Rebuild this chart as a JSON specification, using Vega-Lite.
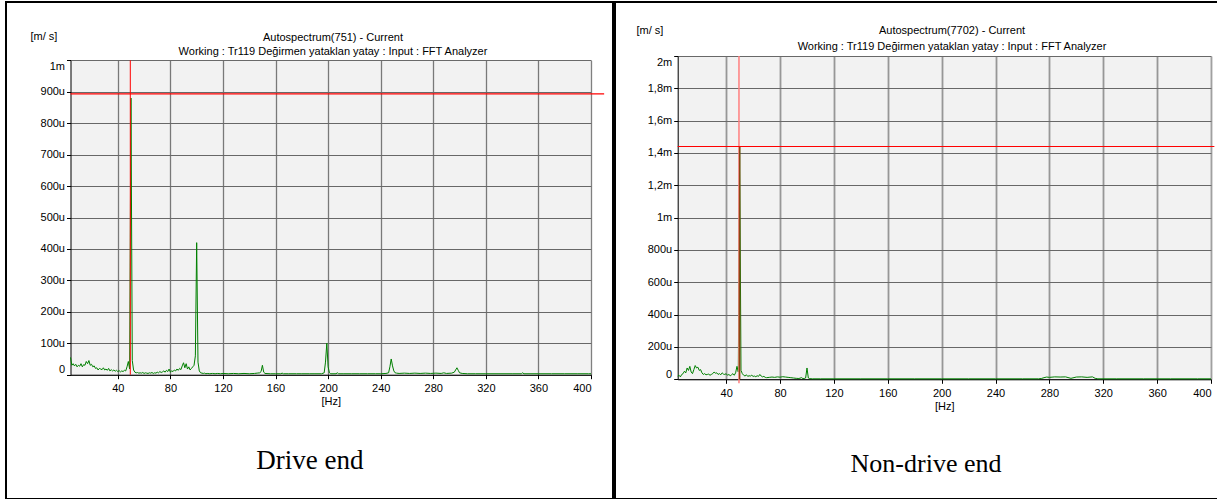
{
  "$schema": "https://vega.github.io/schema/vega-lite/v6.json",
  "padding": {"left": 5, "top": 1, "right": 0, "bottom": 0},
  "spacing": 0,
  "background": "white",
  "config": {"view": {"stroke": "#000000", "strokeWidth": 2}, "concat": {"spacing": 0}},
  "datasets": {
    "de": [
      {"hz":4,"v":55},{"hz":5,"v":30},{"hz":6,"v":35},{"hz":7,"v":28},{"hz":8,"v":33},{"hz":9,"v":25},{"hz":10,"v":30},{"hz":11,"v":27},{"hz":12,"v":35},{"hz":13,"v":25},{"hz":14,"v":32},{"hz":15,"v":30},{"hz":16,"v":42},{"hz":17,"v":35},{"hz":18,"v":45},{"hz":19,"v":30},{"hz":20,"v":33},{"hz":21,"v":25},{"hz":22,"v":28},{"hz":23,"v":20},{"hz":24,"v":22},{"hz":25,"v":15},{"hz":26,"v":20},{"hz":27,"v":18},{"hz":28,"v":16},{"hz":29,"v":22},{"hz":30,"v":15},{"hz":31,"v":18},{"hz":32,"v":14},{"hz":33,"v":20},{"hz":34,"v":12},{"hz":35,"v":16},{"hz":36,"v":12},{"hz":37,"v":15},{"hz":38,"v":11},{"hz":39,"v":14},{"hz":40,"v":10},{"hz":41,"v":13},{"hz":42,"v":9},{"hz":43,"v":12},{"hz":44,"v":10},{"hz":45,"v":14},{"hz":46,"v":12},{"hz":47,"v":25},{"hz":48,"v":42},{"hz":49,"v":18},{"hz":50,"v":880},{"hz":51,"v":45},{"hz":52,"v":15},{"hz":53,"v":8},{"hz":54,"v":6},{"hz":55,"v":7},{"hz":56,"v":5},{"hz":57,"v":6},{"hz":58,"v":5},{"hz":59,"v":7},{"hz":60,"v":4},{"hz":61,"v":6},{"hz":62,"v":5},{"hz":63,"v":4},{"hz":64,"v":6},{"hz":65,"v":5},{"hz":66,"v":7},{"hz":67,"v":4},{"hz":68,"v":6},{"hz":69,"v":5},{"hz":70,"v":8},{"hz":71,"v":6},{"hz":72,"v":10},{"hz":73,"v":7},{"hz":74,"v":9},{"hz":75,"v":12},{"hz":76,"v":8},{"hz":77,"v":14},{"hz":78,"v":10},{"hz":79,"v":18},{"hz":80,"v":8},{"hz":81,"v":12},{"hz":82,"v":10},{"hz":83,"v":15},{"hz":84,"v":12},{"hz":85,"v":18},{"hz":86,"v":14},{"hz":87,"v":20},{"hz":88,"v":16},{"hz":89,"v":28},{"hz":90,"v":38},{"hz":91,"v":22},{"hz":92,"v":35},{"hz":93,"v":18},{"hz":94,"v":25},{"hz":95,"v":15},{"hz":96,"v":20},{"hz":97,"v":25},{"hz":98,"v":30},{"hz":99,"v":60},{"hz":100,"v":420},{"hz":101,"v":40},{"hz":102,"v":12},{"hz":103,"v":6},{"hz":104,"v":5},{"hz":105,"v":4},{"hz":106,"v":5},{"hz":107,"v":3},{"hz":108,"v":4},{"hz":110,"v":3},{"hz":112,"v":4},{"hz":114,"v":3},{"hz":116,"v":4},{"hz":118,"v":3},{"hz":120,"v":4},{"hz":124,"v":3},{"hz":128,"v":4},{"hz":132,"v":3},{"hz":136,"v":4},{"hz":140,"v":3},{"hz":144,"v":4},{"hz":146,"v":5},{"hz":148,"v":6},{"hz":149,"v":10},{"hz":150,"v":30},{"hz":151,"v":8},{"hz":152,"v":4},{"hz":156,"v":3},{"hz":160,"v":3},{"hz":164,"v":3},{"hz":165,"v":5},{"hz":166,"v":3},{"hz":170,"v":3},{"hz":176,"v":3},{"hz":180,"v":3},{"hz":186,"v":3},{"hz":190,"v":3},{"hz":195,"v":3},{"hz":197,"v":6},{"hz":198,"v":40},{"hz":199,"v":100},{"hz":200,"v":25},{"hz":201,"v":6},{"hz":202,"v":3},{"hz":206,"v":3},{"hz":207,"v":6},{"hz":208,"v":3},{"hz":212,"v":3},{"hz":218,"v":3},{"hz":224,"v":3},{"hz":230,"v":3},{"hz":236,"v":3},{"hz":240,"v":3},{"hz":244,"v":4},{"hz":246,"v":6},{"hz":247,"v":25},{"hz":248,"v":50},{"hz":249,"v":28},{"hz":250,"v":12},{"hz":251,"v":6},{"hz":252,"v":5},{"hz":254,"v":4},{"hz":258,"v":5},{"hz":262,"v":4},{"hz":266,"v":5},{"hz":270,"v":4},{"hz":274,"v":5},{"hz":278,"v":4},{"hz":282,"v":5},{"hz":286,"v":4},{"hz":288,"v":6},{"hz":290,"v":4},{"hz":294,"v":5},{"hz":296,"v":8},{"hz":297,"v":15},{"hz":298,"v":22},{"hz":299,"v":14},{"hz":300,"v":6},{"hz":302,"v":4},{"hz":306,"v":3},{"hz":312,"v":3},{"hz":320,"v":3},{"hz":330,"v":3},{"hz":340,"v":3},{"hz":347,"v":3},{"hz":348,"v":6},{"hz":349,"v":3},{"hz":360,"v":3},{"hz":370,"v":3},{"hz":380,"v":3},{"hz":390,"v":3},{"hz":398,"v":3},{"hz":400,"v":3}
    ],
    "nde": [
      {"hz":4,"v":20},{"hz":5,"v":25},{"hz":6,"v":15},{"hz":7,"v":30},{"hz":8,"v":35},{"hz":9,"v":50},{"hz":10,"v":40},{"hz":11,"v":70},{"hz":12,"v":55},{"hz":13,"v":80},{"hz":14,"v":45},{"hz":15,"v":35},{"hz":16,"v":60},{"hz":17,"v":85},{"hz":18,"v":70},{"hz":19,"v":75},{"hz":20,"v":55},{"hz":21,"v":60},{"hz":22,"v":40},{"hz":23,"v":30},{"hz":24,"v":35},{"hz":25,"v":28},{"hz":26,"v":30},{"hz":27,"v":32},{"hz":28,"v":25},{"hz":29,"v":30},{"hz":30,"v":35},{"hz":31,"v":45},{"hz":32,"v":38},{"hz":33,"v":40},{"hz":34,"v":30},{"hz":35,"v":35},{"hz":36,"v":28},{"hz":37,"v":40},{"hz":38,"v":32},{"hz":39,"v":30},{"hz":40,"v":35},{"hz":41,"v":25},{"hz":42,"v":30},{"hz":43,"v":22},{"hz":44,"v":28},{"hz":45,"v":35},{"hz":46,"v":25},{"hz":47,"v":40},{"hz":48,"v":80},{"hz":49,"v":45},{"hz":50,"v":1440},{"hz":51,"v":55},{"hz":52,"v":35},{"hz":53,"v":25},{"hz":54,"v":20},{"hz":55,"v":28},{"hz":56,"v":18},{"hz":57,"v":22},{"hz":58,"v":20},{"hz":59,"v":25},{"hz":60,"v":18},{"hz":61,"v":20},{"hz":62,"v":16},{"hz":63,"v":22},{"hz":64,"v":18},{"hz":65,"v":30},{"hz":66,"v":20},{"hz":67,"v":15},{"hz":68,"v":18},{"hz":69,"v":12},{"hz":70,"v":10},{"hz":72,"v":12},{"hz":74,"v":14},{"hz":76,"v":12},{"hz":78,"v":15},{"hz":80,"v":13},{"hz":82,"v":16},{"hz":84,"v":14},{"hz":86,"v":12},{"hz":88,"v":10},{"hz":90,"v":8},{"hz":92,"v":6},{"hz":94,"v":5},{"hz":96,"v":10},{"hz":97,"v":4},{"hz":98,"v":5},{"hz":99,"v":8},{"hz":100,"v":70},{"hz":101,"v":8},{"hz":102,"v":4},{"hz":104,"v":3},{"hz":110,"v":3},{"hz":120,"v":3},{"hz":140,"v":3},{"hz":160,"v":3},{"hz":180,"v":3},{"hz":200,"v":3},{"hz":220,"v":3},{"hz":240,"v":3},{"hz":260,"v":3},{"hz":272,"v":3},{"hz":274,"v":5},{"hz":276,"v":10},{"hz":278,"v":14},{"hz":280,"v":12},{"hz":284,"v":15},{"hz":288,"v":14},{"hz":292,"v":15},{"hz":296,"v":6},{"hz":300,"v":14},{"hz":304,"v":15},{"hz":308,"v":12},{"hz":312,"v":15},{"hz":314,"v":6},{"hz":316,"v":3},{"hz":330,"v":3},{"hz":350,"v":3},{"hz":370,"v":3},{"hz":390,"v":3},{"hz":400,"v":3}
    ]
  },
  "hconcat": [
    {
      "width": 607,
      "height": 497,
      "resolve": {"axis": {"x": "independent", "y": "independent"}},
      "layer": [
        {
          "data": {"values": [{}]},
          "mark": {"type": "rect", "fill": "#000000", "fillOpacity": 0.051},
          "encoding": {
            "x": {"datum": 4, "type": "quantitative",
              "scale": {"domain": [4, 400], "range": [64.5, 585], "nice": false, "zero": false},
              "axis": {"orient": "bottom", "values": [40,80,120,160,200,240,280,320,360,400], "grid": false,
                "domainColor": "#000000", "domainWidth": 1, "tickColor": "#000000", "tickSize": 4,
                "labelFont": "Liberation Sans", "labelFontSize": 11, "labelColor": "#000000", "labelPadding": 4, "labelOverlap": false, "labelFlush": true,
                "title": "[Hz]", "titleFont": "Liberation Sans", "titleFontSize": 11, "titleFontWeight": "normal", "titleColor": "#000000", "titlePadding": 2,
                "offset": -124.3}},
            "x2": {"datum": 400},
            "y": {"datum": 0, "type": "quantitative",
              "scale": {"domain": [0, 1000], "range": [372.7, 58.3], "nice": false, "zero": false},
              "axis": {"values": [0,100,200,300,400,500,600,700,800,900,1000], "grid": true, "gridColor": "#6e6e6e", "gridWidth": 1,
                "domainColor": "#000000", "domainWidth": 1, "tickColor": "#000000", "tickSize": 4,
                "labelFont": "Liberation Sans", "labelFontSize": 11, "labelColor": "#000000", "labelPadding": 2, "labelOverlap": false, "labelFlush": true,
                "labelExpr": "datum.value == 0 ? '0' : datum.value >= 1000 ? '1m' : datum.value + 'u'",
                "title": null, "offset": -64.5}},
            "y2": {"datum": 1000}
          }
        },
        {
          "data": {"name": "de"},
          "mark": {"type": "line", "color": "#008000", "strokeWidth": 1},
          "encoding": {
            "x": {"field": "hz", "type": "quantitative", "scale": {"domain": [4, 400], "range": [64.5, 585], "nice": false, "zero": false},
              "axis": {"orient": "top", "values": [40,80,120,160,200,240,280,320,360,400], "grid": true, "gridColor": "#808080", "gridWidth": 1.3,
                "domain": false, "ticks": false, "labels": false, "title": null}},
            "y": {"field": "v", "type": "quantitative", "scale": {"domain": [0, 1000], "range": [372.7, 58.3], "nice": false, "zero": false}, "axis": null}
          }
        },
        {
          "data": {"values": [{}]},
          "mark": {"type": "rule", "color": "#ff0000", "strokeWidth": 1},
          "encoding": {
            "x": {"datum": 49.5, "type": "quantitative", "scale": {"domain": [4, 400], "range": [64.5, 585], "nice": false, "zero": false}, "axis": null},
            "y": {"datum": 0, "type": "quantitative", "scale": {"domain": [0, 1000], "range": [372.7, 58.3], "nice": false, "zero": false}, "axis": null},
            "y2": {"datum": 1000}
          }
        },
        {
          "data": {"values": [{}]},
          "mark": {"type": "rule", "color": "#ff0000", "strokeWidth": 1.3},
          "encoding": {
            "x": {"datum": 4, "type": "quantitative", "scale": {"domain": [4, 400], "range": [64.5, 585], "nice": false, "zero": false}, "axis": null},
            "x2": {"datum": 410},
            "y": {"datum": 893, "type": "quantitative", "scale": {"domain": [0, 1000], "range": [372.7, 58.3], "nice": false, "zero": false}, "axis": null}
          }
        },
        {
          "data": {"values": [{}]},
          "mark": {"type": "text", "text": "[m/ s]", "font": "Liberation Sans", "fontSize": 11, "color": "#000000", "align": "center", "baseline": "middle"},
          "encoding": {
            "x": {"datum": -16.2, "type": "quantitative", "scale": {"domain": [4, 400], "range": [64.5, 585], "nice": false, "zero": false}, "axis": null},
            "y": {"datum": 1074, "type": "quantitative", "scale": {"domain": [0, 1000], "range": [372.7, 58.3], "nice": false, "zero": false}, "axis": null}
          }
        },
        {
          "data": {"values": [{}]},
          "mark": {"type": "text", "text": "Autospectrum(751) - Current", "font": "Liberation Sans", "fontSize": 11, "color": "#000000", "align": "center", "baseline": "middle"},
          "encoding": {
            "x": {"datum": 203.7, "type": "quantitative", "scale": {"domain": [4, 400], "range": [64.5, 585], "nice": false, "zero": false}, "axis": null},
            "y": {"datum": 1071, "type": "quantitative", "scale": {"domain": [0, 1000], "range": [372.7, 58.3], "nice": false, "zero": false}, "axis": null}
          }
        },
        {
          "data": {"values": [{}]},
          "mark": {"type": "text", "text": "Working : Tr119 Değirmen yataklan yatay : Input : FFT Analyzer", "font": "Liberation Sans", "fontSize": 11, "color": "#000000", "align": "center", "baseline": "middle"},
          "encoding": {
            "x": {"datum": 203.7, "type": "quantitative", "scale": {"domain": [4, 400], "range": [64.5, 585], "nice": false, "zero": false}, "axis": null},
            "y": {"datum": 1026, "type": "quantitative", "scale": {"domain": [0, 1000], "range": [372.7, 58.3], "nice": false, "zero": false}, "axis": null}
          }
        },
        {
          "data": {"values": [{}]},
          "mark": {"type": "text", "text": "Drive end", "font": "Liberation Serif", "fontSize": 27, "color": "#000000", "align": "center", "baseline": "middle"},
          "encoding": {
            "x": {"datum": 186.2, "type": "quantitative", "scale": {"domain": [4, 400], "range": [64.5, 585], "nice": false, "zero": false}, "axis": null},
            "y": {"datum": -274.5, "type": "quantitative", "scale": {"domain": [0, 1000], "range": [372.7, 58.3], "nice": false, "zero": false}, "axis": null}
          }
        }
      ]
    },
    {
      "width": 604,
      "height": 497,
      "resolve": {"axis": {"x": "independent", "y": "independent"}},
      "layer": [
        {
          "data": {"values": [{}]},
          "mark": {"type": "rect", "fill": "#000000", "fillOpacity": 0.051},
          "encoding": {
            "x": {"datum": 4, "type": "quantitative",
              "scale": {"domain": [4, 400], "range": [62.7, 596], "nice": false, "zero": false},
              "axis": {"orient": "bottom", "values": [40,80,120,160,200,240,280,320,360,400], "grid": false,
                "domainColor": "#000000", "domainWidth": 1, "tickColor": "#000000", "tickSize": 4,
                "labelFont": "Liberation Sans", "labelFontSize": 11, "labelColor": "#000000", "labelPadding": 4, "labelOverlap": false, "labelFlush": true,
                "title": "[Hz]", "titleFont": "Liberation Sans", "titleFontSize": 11, "titleFontWeight": "normal", "titleColor": "#000000", "titlePadding": 2,
                "offset": -119.7}},
            "x2": {"datum": 400},
            "y": {"datum": 0, "type": "quantitative",
              "scale": {"domain": [0, 2000], "range": [377.3, 54], "nice": false, "zero": false},
              "axis": {"values": [0,200,400,600,800,1000,1200,1400,1600,1800,2000], "grid": true, "gridColor": "#6e6e6e", "gridWidth": 1,
                "domainColor": "#000000", "domainWidth": 1, "tickColor": "#000000", "tickSize": 4,
                "labelFont": "Liberation Sans", "labelFontSize": 11, "labelColor": "#000000", "labelPadding": 2, "labelOverlap": false, "labelFlush": true,
                "labelExpr": "datum.value == 0 ? '0' : datum.value >= 1000 ? replace(format(datum.value / 1000, '.1~f'), '.', ',') + 'm' : datum.value + 'u'",
                "title": null, "offset": -62.7}},
            "y2": {"datum": 2000}
          }
        },
        {
          "data": {"name": "nde"},
          "mark": {"type": "line", "color": "#008000", "strokeWidth": 1},
          "encoding": {
            "x": {"field": "hz", "type": "quantitative", "scale": {"domain": [4, 400], "range": [62.7, 596], "nice": false, "zero": false},
              "axis": {"orient": "top", "values": [40,80,120,160,200,240,280,320,360,400], "grid": true, "gridColor": "#a0a0a0", "gridWidth": 1.8,
                "domain": false, "ticks": false, "labels": false, "title": null}},
            "y": {"field": "v", "type": "quantitative", "scale": {"domain": [0, 2000], "range": [377.3, 54], "nice": false, "zero": false}, "axis": null}
          }
        },
        {
          "data": {"values": [{}]},
          "mark": {"type": "rule", "color": "#ff7f7f", "strokeWidth": 1.5},
          "encoding": {
            "x": {"datum": 49.5, "type": "quantitative", "scale": {"domain": [4, 400], "range": [62.7, 596], "nice": false, "zero": false}, "axis": null},
            "y": {"datum": -25, "type": "quantitative", "scale": {"domain": [0, 2000], "range": [377.3, 54], "nice": false, "zero": false}, "axis": null},
            "y2": {"datum": 2000}
          }
        },
        {
          "data": {"values": [{}]},
          "mark": {"type": "rule", "color": "#8b4513", "strokeWidth": 1.5},
          "encoding": {
            "x": {"datum": 50, "type": "quantitative", "scale": {"domain": [4, 400], "range": [62.7, 596], "nice": false, "zero": false}, "axis": null},
            "y": {"datum": 0, "type": "quantitative", "scale": {"domain": [0, 2000], "range": [377.3, 54], "nice": false, "zero": false}, "axis": null},
            "y2": {"datum": 1440}
          }
        },
        {
          "data": {"values": [{}]},
          "mark": {"type": "rule", "color": "#ff0000", "strokeWidth": 1.2},
          "encoding": {
            "x": {"datum": 4, "type": "quantitative", "scale": {"domain": [4, 400], "range": [62.7, 596], "nice": false, "zero": false}, "axis": null},
            "x2": {"datum": 402.5},
            "y": {"datum": 1440, "type": "quantitative", "scale": {"domain": [0, 2000], "range": [377.3, 54], "nice": false, "zero": false}, "axis": null}
          }
        },
        {
          "data": {"values": [{}]},
          "mark": {"type": "text", "text": "[m/ s]", "font": "Liberation Sans", "fontSize": 11, "color": "#000000", "align": "center", "baseline": "middle"},
          "encoding": {
            "x": {"datum": -16.6, "type": "quantitative", "scale": {"domain": [4, 400], "range": [62.7, 596], "nice": false, "zero": false}, "axis": null},
            "y": {"datum": 2155, "type": "quantitative", "scale": {"domain": [0, 2000], "range": [377.3, 54], "nice": false, "zero": false}, "axis": null}
          }
        },
        {
          "data": {"values": [{}]},
          "mark": {"type": "text", "text": "Autospectrum(7702) - Current", "font": "Liberation Sans", "fontSize": 11, "color": "#000000", "align": "center", "baseline": "middle"},
          "encoding": {
            "x": {"datum": 207.7, "type": "quantitative", "scale": {"domain": [4, 400], "range": [62.7, 596], "nice": false, "zero": false}, "axis": null},
            "y": {"datum": 2155, "type": "quantitative", "scale": {"domain": [0, 2000], "range": [377.3, 54], "nice": false, "zero": false}, "axis": null}
          }
        },
        {
          "data": {"values": [{}]},
          "mark": {"type": "text", "text": "Working : Tr119 Değirmen yataklan yatay : Input : FFT Analyzer", "font": "Liberation Sans", "fontSize": 11, "color": "#000000", "align": "center", "baseline": "middle"},
          "encoding": {
            "x": {"datum": 207.7, "type": "quantitative", "scale": {"domain": [4, 400], "range": [62.7, 596], "nice": false, "zero": false}, "axis": null},
            "y": {"datum": 2056, "type": "quantitative", "scale": {"domain": [0, 2000], "range": [377.3, 54], "nice": false, "zero": false}, "axis": null}
          }
        },
        {
          "data": {"values": [{}]},
          "mark": {"type": "text", "text": "Non-drive end", "font": "Liberation Serif", "fontSize": 26, "color": "#000000", "align": "center", "baseline": "middle"},
          "encoding": {
            "x": {"datum": 188.4, "type": "quantitative", "scale": {"domain": [4, 400], "range": [62.7, 596], "nice": false, "zero": false}, "axis": null},
            "y": {"datum": -524, "type": "quantitative", "scale": {"domain": [0, 2000], "range": [377.3, 54], "nice": false, "zero": false}, "axis": null}
          }
        }
      ]
    }
  ]
}
